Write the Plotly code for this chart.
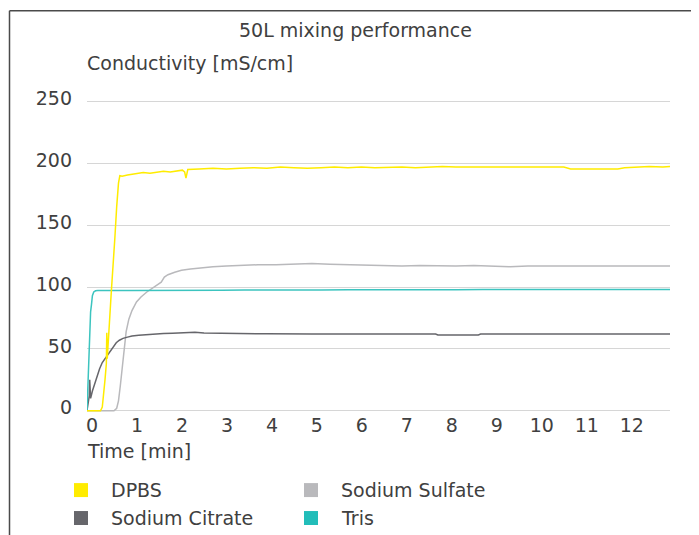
import plotly.graph_objects as go

# ---------------- data ----------------
series_names = ["DPBS", "Sodium Sulfate", "Sodium Citrate", "Tris"]
line_colors = ["#FFEC00", "#B9B9BC", "#66666B", "#3CC4BF"]
legend_colors = ["#FFEC00", "#B9B9BC", "#66666B", "#22BDB9"]

dpbs_t = [0, 0.10, 0.20, 0.30, 0.34, 0.37, 0.40, 0.43, 0.44, 0.45, 0.47, 0.50,
          0.54, 0.58, 0.62, 0.66, 0.70, 0.73, 0.78, 0.90, 1.00, 1.10, 1.25, 1.40,
          1.55, 1.70, 1.85, 2.00, 2.12, 2.17, 2.20, 2.24, 2.35, 2.50, 2.80, 3.10,
          3.40, 3.70, 4.00, 4.30, 4.60, 4.90, 5.20, 5.50, 5.80, 6.10, 6.40, 6.70,
          7.00, 7.30, 7.60, 7.90, 8.20, 8.50, 8.80, 9.10, 9.40, 9.70, 10.00, 10.30,
          10.60, 10.75, 11.00, 11.30, 11.60, 11.80, 11.95, 12.20, 12.50, 12.80, 12.96]
dpbs_v = [0, 0, 0, 0, 3, 12, 25, 38, 63, 42, 52, 72,
          96, 115, 140, 165, 184, 190, 189.5, 190.5, 191, 192, 192.5, 192,
          193, 193.5, 193, 194, 194.5, 193, 188, 195, 195, 195.5, 196, 195.5,
          196, 196.5, 196, 197, 196.5, 196, 196.5, 197, 196.5, 197, 196.5, 197,
          197, 196.5, 197, 197.5, 197, 197, 196.5, 197, 197, 196.5, 197, 196.5,
          197, 195.5, 195.5, 195.5, 195.5, 195.5, 196.5, 197, 197.5, 197, 197.5]

sulfate_t = [0, 0.30, 0.60, 0.66, 0.70, 0.74, 0.78, 0.82, 0.87, 0.93, 1.00, 1.10,
             1.20, 1.33, 1.45, 1.55, 1.65, 1.72, 1.80, 1.95, 2.10, 2.30, 2.50, 2.80,
             3.10, 3.40, 3.80, 4.20, 4.60, 5.00, 5.40, 5.80, 6.20, 6.60, 7.00, 7.40,
             7.80, 8.20, 8.60, 9.00, 9.40, 9.80, 10.20, 10.60, 11.00, 11.40, 11.80,
             12.20, 12.60, 12.96]
sulfate_v = [0, 0, 0, 2, 8, 20, 34, 50, 64, 74, 81, 88,
             92, 96, 99, 101, 104, 108, 110, 112, 113.5, 114.5, 115.5, 116.5,
             117, 117.5, 118, 118, 118.5, 119, 118.5, 118, 117.5, 117.5, 117, 117.5,
             117, 117, 117.5, 117, 116.5, 117, 117, 116.5, 117, 116.5, 117,
             117, 117, 117]

citrate_t = [0, 0.03, 0.05, 0.06, 0.08, 0.12, 0.17, 0.22, 0.28, 0.34, 0.40, 0.46,
             0.52, 0.58, 0.65, 0.72, 0.80, 0.90, 1.00, 1.15, 1.30, 1.50, 1.70, 1.90,
             2.10, 2.30, 2.40, 2.60, 3.00, 3.50, 4.00, 5.00, 6.00, 7.00, 7.75, 7.80,
             8.70, 8.75, 9.50, 10.50, 11.50, 12.96]
citrate_v = [0, 8, 12, 25, 10, 16, 22, 28, 34, 39, 42, 45,
             49, 52, 55, 57, 58.5, 59.5, 60.5, 61, 61.5, 62, 62.5, 62.7,
             63, 63, 63.5, 62.8, 62.5, 62.3, 62.2, 62, 62, 62, 62, 61.2,
             61.2, 62, 62, 62, 62, 62]

tris_t = [0, 0.02, 0.04, 0.06, 0.08, 0.10, 0.12, 0.15, 0.19, 0.24, 0.30, 0.60,
          1.00, 1.50, 2.00, 2.50, 3.00, 3.50, 4.00, 4.60, 5.20, 5.80, 6.40, 7.00,
          7.60, 8.20, 8.80, 9.40, 10.00, 10.60, 11.20, 11.80, 12.40, 12.96]
tris_v = [0, 20, 45, 70, 80, 86, 93, 96, 97, 97.3, 97.2, 97.3,
          97.2, 97.4, 97.3, 97.5, 97.4, 97.6, 97.5, 97.8, 97.6, 97.8, 97.7, 97.9,
          97.8, 97.9, 98, 97.9, 98, 98, 98.1, 98, 98.1, 98.1]

x_ticks = list(range(0, 13))
y_ticks = [0, 50, 100, 150, 200, 250]

title_text = "50L mixing performance"
y_title = "Conductivity [mS/cm]"
x_title = "Time [min]"

# ---------------- layout geometry ----------------
# page body adds an 8px offset; positions below are given in screen pixels
OFF = 8
W, H = 699, 535
X_RANGE = [0, 12.96]
Y_RANGE = [-1, 252]
PX_PER_UNIT = 1.24
ZERO_Y = 411  # screen y of value 0
PL, PR = 87, 670  # screen x of plot edges
PT = ZERO_Y - Y_RANGE[1] * PX_PER_UNIT
PB = ZERO_Y - Y_RANGE[0] * PX_PER_UNIT
FONT = "DejaVu Sans"
TXT = "#404040"
FS = 19


def px2x(px):
    return (px - PL) / (PR - PL)


def py2y(py):
    return (PB - py) / (PB - PT)


fig = go.Figure()
all_t = [dpbs_t, sulfate_t, citrate_t, tris_t]
all_v = [dpbs_v, sulfate_v, citrate_v, tris_v]
draw_order = [1, 2, 3, 0]  # grays under, yellow on top
for i in draw_order:
    fig.add_trace(go.Scatter(x=all_t[i], y=all_v[i], mode="lines", name=series_names[i],
                             line=dict(color=line_colors[i], width=1.5), showlegend=False))

shapes = []
annotations = []

# frame
shapes.append(dict(type="line", xref="paper", yref="paper",
                   x0=px2x(9.5), x1=px2x(9.5), y0=py2y(10), y1=py2y(560),
                   line=dict(color="#4A4A4A", width=1.5)))
shapes.append(dict(type="line", xref="paper", yref="paper",
                   x0=px2x(9.5), x1=px2x(720), y0=py2y(10), y1=py2y(10),
                   line=dict(color="#4A4A4A", width=1.5)))

# legend (manual, 2 columns)
leg_pos = {"DPBS": (74, 490.5), "Sodium Sulfate": (304, 490.5),
           "Sodium Citrate": (74, 518.5), "Tris": (304, 518.5)}
for name, col in zip(series_names, legend_colors):
    lx, ly = leg_pos[name]
    shapes.append(dict(type="rect", xref="paper", yref="paper",
                       x0=px2x(lx), x1=px2x(lx + 14), y0=py2y(ly - 7), y1=py2y(ly + 7),
                       fillcolor=col, line=dict(width=0)))
    annotations.append(dict(text=name, xref="paper", yref="paper", x=px2x(lx + 35), y=py2y(ly),
                            xanchor="left", yanchor="middle", showarrow=False,
                            font=dict(family=FONT, size=FS, color=TXT)))

annotations.append(dict(text=title_text, xref="paper", yref="paper", x=px2x(355), y=py2y(29),
                        xanchor="center", yanchor="middle", showarrow=False,
                        font=dict(family=FONT, size=FS, color=TXT)))
annotations.append(dict(text=y_title, xref="paper", yref="paper", x=px2x(85), y=py2y(62),
                        xanchor="left", yanchor="middle", showarrow=False,
                        font=dict(family=FONT, size=FS, color=TXT)))
annotations.append(dict(text=x_title, xref="paper", yref="paper", x=px2x(85), y=py2y(451),
                        xanchor="left", yanchor="middle", showarrow=False,
                        font=dict(family=FONT, size=FS, color=TXT)))

fig.update_layout(
    width=W, height=H,
    margin=dict(l=PL - OFF, r=W - (PR - OFF), t=PT - OFF, b=H - (PB - OFF), pad=0),
    paper_bgcolor="white", plot_bgcolor="white",
    font=dict(family=FONT, size=FS, color=TXT),
    showlegend=False,
    shapes=shapes, annotations=annotations,
    xaxis=dict(range=X_RANGE, tickvals=x_ticks, ticktext=[str(v) for v in x_ticks],
               showgrid=False, zeroline=False, showline=False, ticks="",
               ticklabelshift=5, ticklabelstandoff=0,
               tickfont=dict(family=FONT, size=FS, color=TXT)),
    yaxis=dict(range=Y_RANGE, tickvals=y_ticks, showgrid=True, gridcolor="#D6D6D6",
               gridwidth=1, zeroline=False, showline=False, ticks="",
               ticklabelshift=-3, ticklabelstandoff=14,
               tickfont=dict(family=FONT, size=FS, color=TXT)),
)

fig.write_html("out.html")
